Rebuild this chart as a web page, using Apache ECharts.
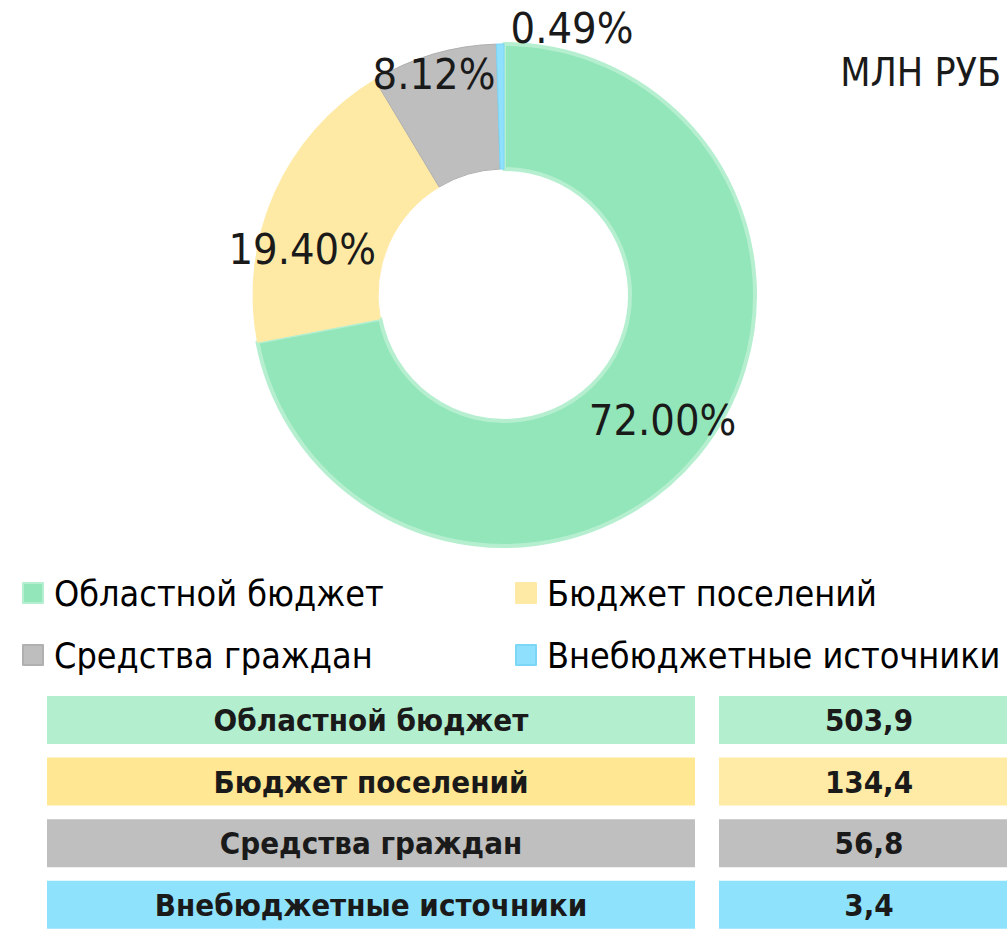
<!DOCTYPE html>
<html>
<head>
<meta charset="utf-8">
<script src="https://cdn.jsdelivr.net/npm/echarts@6/dist/echarts.min.js"></script>
<style>
  html, body { margin: 0; padding: 0; background: #fff; }
  #chart { width: 1007px; height: 929px; }
</style>
</head>
<body>
<div id="chart"></div>
<script>
// data
const categories = ['Областной бюджет', 'Бюджет поселений', 'Средства граждан', 'Внебюджетные источники']
const shares = [72.00, 19.40, 8.12, 0.49]
const amounts = [503.9, 134.4, 56.8, 3.4]
const unitTitle = 'МЛН РУБ'

// styles
const FONT = '"DejaVu Sans Condensed", "Noto Sans", sans-serif'
const sliceColors = ['#92E6B9', '#FFEAA5', '#BEBEBE', '#8EE0FC']
const sliceBorders = ['#B5EFD0', '#FFEAA5', '#B0B0B0', '#7CD6F5']
const nameCellColors = ['#B3EECF', '#FFE793', '#BFBFBF', '#8EE2FC']
const valueCellColors = ['#B3EECF', '#FFEBA6', '#BFBFBF', '#8EE2FC']
// label nudges from the ring middle (px)
const labelNudge = [[11, 3], [-27, 32], [-16, -37], [71, -76]]

const chart = echarts.init(document.getElementById('chart'), null, { renderer: 'svg' })

function tableGraphics() {
  const items = []
  const top = 696
  const pitch = 61.6
  const h = 48
  categories.forEach((name, i) => {
    const y = top + i * pitch
    items.push({
      type: 'rect', shape: { x: 47, y: y, width: 648, height: h },
      style: { fill: nameCellColors[i] }
    })
    items.push({
      type: 'rect', shape: { x: 719, y: y, width: 300, height: h },
      style: { fill: valueCellColors[i] }
    })
    items.push({
      type: 'text', x: 371, y: y + h / 2,
      style: {
        text: name, fontFamily: FONT, fontWeight: 'bold', fontSize: 31,
        fill: '#1a1a1a', align: 'center', verticalAlign: 'middle'
      }
    })
    items.push({
      type: 'text', x: 869, y: y + h / 2,
      style: {
        text: amounts[i].toFixed(1).replace('.', ','), fontFamily: FONT, fontWeight: 'bold', fontSize: 31,
        fill: '#1a1a1a', align: 'center', verticalAlign: 'middle'
      }
    })
  })
  return items
}

const legendText = {
  fontFamily: FONT, fontSize: 35.7, color: '#000', lineHeight: 40, padding: [0, 0, 0, 6]
}

chart.setOption({
  animation: false,
  title: {
    text: unitTitle,
    right: 6,
    top: 53,
    padding: 0,
    textStyle: { fontFamily: FONT, fontSize: 39, fontWeight: 'normal', color: '#1a1a1a' }
  },
  legend: [{
    orient: 'vertical',
    left: 22,
    top: 573,
    padding: 0,
    itemWidth: 20,
    itemHeight: 20,
    itemGap: 22,
    icon: 'rect',
    itemStyle: { borderWidth: 2 },
    data: [categories[0], categories[2]],
    textStyle: legendText
  }, {
    orient: 'vertical',
    left: 515,
    top: 573,
    padding: 0,
    itemWidth: 20,
    itemHeight: 20,
    itemGap: 22,
    icon: 'rect',
    itemStyle: { borderWidth: 2 },
    data: [categories[1], categories[3]],
    textStyle: legendText
  }],
  graphic: tableGraphics(),
  series: [{
    type: 'pie',
    center: [504, 295],
    radius: [126, 251],
    startAngle: 90,
    clockwise: true,
    avoidLabelOverlap: false,
    label: {
      show: true,
      position: 'inside',
      fontFamily: FONT,
      fontSize: 43,
      color: '#1a1a1a',
      formatter: p => p.value.toFixed(2) + '%'
    },
    labelLayout: p => ({ dx: labelNudge[p.dataIndex][0], dy: labelNudge[p.dataIndex][1] }),
    labelLine: { show: false },
    emphasis: { disabled: true },
    data: categories.map((name, i) => ({
      name: name,
      value: shares[i],
      itemStyle: {
        color: sliceColors[i],
        borderColor: sliceBorders[i],
        borderWidth: i === 0 ? 4 : 1
      }
    }))
  }]
})
</script>
</body>
</html>
